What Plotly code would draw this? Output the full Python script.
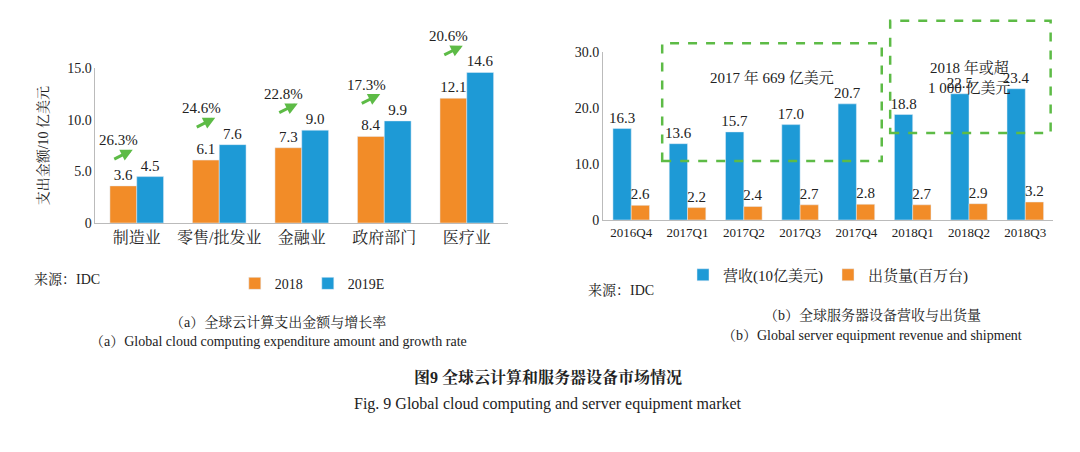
import plotly.graph_objects as go

# left panel data
industries = ["制造业", "零售/批发业", "金融业", "政府部门", "医疗业"]
spend_2018 = [3.6, 6.1, 7.3, 8.4, 12.1]
spend_2019 = [4.5, 7.6, 9.0, 9.9, 14.6]
growth = ["26.3%", "24.6%", "22.8%", "17.3%", "20.6%"]

# right panel data
quarters = ["2016Q4", "2017Q1", "2017Q2", "2017Q3", "2017Q4", "2018Q1", "2018Q2", "2018Q3"]
revenue = [16.3, 13.6, 15.7, 17.0, 20.7, 18.8, 22.5, 23.4]
shipment = [2.6, 2.2, 2.4, 2.7, 2.8, 2.7, 2.9, 3.2]

ORANGE = "#F28C28"
BLUE = "#1E9AD6"
GREEN = "#5DBB46"
FONT = "Liberation Serif, Noto Serif CJK SC, Noto Sans CJK SC"

Y1 = [0.524, 0.878]
Y2 = [0.531, 0.916]


def py1(v):
    return Y1[0] + v / 15 * (Y1[1] - Y1[0])


def py2(v):
    return Y2[0] + v / 30 * (Y2[1] - Y2[0])


fig = go.Figure()
lbl = dict(textposition="outside", cliponaxis=False, textfont=dict(size=15),
           constraintext="none")
fig.add_trace(go.Bar(x=industries, y=spend_2018, name="2018", marker_color=ORANGE,
                     text=[f"{v:.1f}" for v in spend_2018], xaxis="x", yaxis="y",
                     legend="legend", **lbl))
fig.add_trace(go.Bar(x=industries, y=spend_2019, name="2019E", marker_color=BLUE,
                     text=[f"{v:.1f}" for v in spend_2019], xaxis="x", yaxis="y",
                     legend="legend", **lbl))
fig.add_trace(go.Bar(x=quarters, y=revenue, name="营收(10亿美元)", marker_color=BLUE,
                     text=[f"{v:.1f}" for v in revenue], xaxis="x2", yaxis="y2",
                     legend="legend2", **lbl))
fig.add_trace(go.Bar(x=quarters, y=shipment, name="出货量(百万台)", marker_color=ORANGE,
                     text=[f"{v:.1f}" for v in shipment], xaxis="x2", yaxis="y2",
                     legend="legend2", **lbl))

anns = []
for cat, a, b, g in zip(industries, spend_2018, spend_2019, growth):
    top = max(a, b)
    anns.append(dict(x=cat, y=py1(top + 2.6), xref="x", yref="paper", ax=-20, ay=10,
                     xshift=-4, text="", showarrow=True, arrowhead=2, arrowsize=0.8,
                     arrowwidth=3, arrowcolor=GREEN))
    anns.append(dict(x=cat, y=py1(top + 4.5), xref="x", yref="paper", text=g,
                     showarrow=False, xshift=-18, font=dict(size=15)))

texts = [
    (0.535, 0.37, "来源：IDC", 14, "left"),
    (0.022, 0.395, "来源：IDC", 14, "left"),
    (0.8, 0.29, "（b）全球服务器设备营收与出货量", 14, "center"),
    (0.8, 0.245, "（b）Global server equipment revenue and shipment", 14, "center"),
    (0.25, 0.275, "（a）全球云计算支出金额与增长率", 14, "center"),
    (0.25, 0.23, "（a）Global cloud computing expenditure amount and growth rate", 14, "center"),
    (0.5, 0.145, "<b>图9 全球云计算和服务器设备市场情况</b>", 16, "center"),
    (0.5, 0.085, "Fig. 9 Global cloud computing and server equipment market", 16, "center"),
]
for x, y, t, s, al in texts:
    anns.append(dict(x=x, y=y, xref="paper", yref="paper", text=t, showarrow=False,
                     xanchor=al, font=dict(size=s)))

anns.append(dict(x=2.5, y=py2(27.3), xref="x2", yref="paper", text="2017 年 669 亿美元",
                 showarrow=False, font=dict(size=15)))
anns.append(dict(x=6, y=py2(29.0), xref="x2", yref="paper", text="2018 年或超<br>1 000 亿美元",
                 showarrow=False, font=dict(size=15)))

shapes = [
    dict(type="rect", xref="x2", yref="paper", x0=0.55, x1=4.45, y0=py2(10.5), y1=py2(31.5),
         line=dict(color=GREEN, width=2.5, dash="dash")),
    dict(type="rect", xref="x2", yref="paper", x0=4.6, x1=7.45, y0=py2(15.5), y1=py2(35.5),
         line=dict(color=GREEN, width=2.5, dash="dash")),
]

fig.update_layout(
    width=1080, height=452, margin=dict(l=0, r=0, t=0, b=0),
    plot_bgcolor="white", paper_bgcolor="white",
    font=dict(family=FONT, size=14, color="#222"),
    barmode="group", bargap=0.35, bargroupgap=0,
    uniformtext=dict(minsize=14, mode="show"),
    xaxis=dict(domain=[0.081, 0.463], anchor="y", showline=True, linecolor="#bbb",
               tickfont=dict(size=16)),
    yaxis=dict(domain=Y1, anchor="x", range=[0, 15], tickvals=[0, 5, 10, 15],
               ticktext=["0", "5.0", "10.0", "15.0"], showline=True, linecolor="#bbb",
               showgrid=False, title=dict(text="支出金额/10 亿美元", font=dict(size=14))),
    xaxis2=dict(domain=[0.551, 0.968], anchor="y2", showline=True, linecolor="#bbb",
                tickfont=dict(size=13)),
    yaxis2=dict(domain=Y2, anchor="x2", range=[0, 30], tickvals=[0, 10, 20, 30],
                ticktext=["0", "10.0", "20.0", "30.0"], showline=True, linecolor="#bbb",
                showgrid=False),
    legend=dict(orientation="h", x=0.21, y=0.385, xanchor="left", yanchor="middle",
                font=dict(size=14)),
    legend2=dict(orientation="h", x=0.625, y=0.405, xanchor="left", yanchor="middle",
                 font=dict(size=15)),
    annotations=anns, shapes=shapes,
)

fig.write_html("out.html")
